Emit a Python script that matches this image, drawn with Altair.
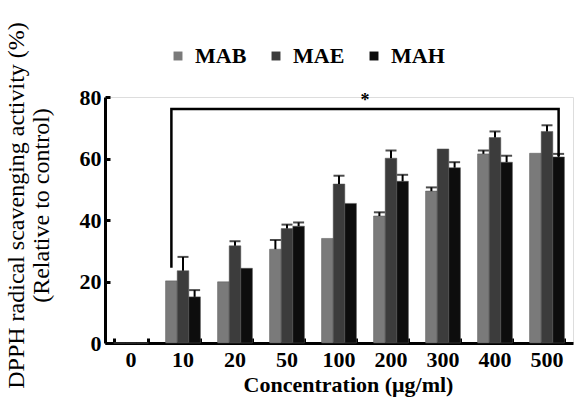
import altair as alt
import pandas as pd

concentrations = ["0", "10", "20", "50", "100", "200", "300", "400", "500"]
series = ["MAB", "MAE", "MAH"]
mab = [0, 20.2, 19.9, 30.5, 34.0, 41.3, 49.4, 61.5, 61.7]
mab_err = [0, 0, 0, 3.0, 0, 1.2, 1.2, 1.1, 0]
mae = [0, 23.5, 31.6, 37.2, 51.7, 60.1, 63.1, 66.8, 68.8]
mae_err = [0, 4.5, 1.5, 1.3, 2.7, 2.5, 0, 2.0, 2.0]
mah = [0, 15.0, 24.3, 38.0, 45.4, 52.6, 57.0, 58.8, 60.5]
mah_err = [0, 2.2, 0, 1.2, 0, 2.1, 1.8, 2.1, 1.0]
y_ticks = [0, 20, 40, 60, 80]

# significance bracket: (concentration, series, value) path
br_conc = ["10", "10", "500", "500"]
br_series = ["MAB", "MAB", "MAH", "MAH"]
br_val = [24.5, 76.1, 76.1, 60.8]

rows = []
for s, vals, errs in [("MAB", mab, mab_err), ("MAE", mae, mae_err), ("MAH", mah, mah_err)]:
    for c, v, e in zip(concentrations, vals, errs):
        rows.append({"conc": c, "series": s, "value": v, "hi": v + e, "err": e})
df = pd.DataFrame(rows)
bracket = pd.DataFrame({"conc": br_conc, "series": br_series, "value": br_val,
                        "order": list(range(len(br_conc)))})
star = pd.DataFrame({"conc": ["200"], "value": [76.1], "label": ["*"]})
ticks_df = pd.DataFrame({"v": y_ticks})

W, H = 468, 246
FONT = "Liberation Serif"
colors = ["#7a7a7a", "#3c3c3c", "#0d0d0d"]

xscale = alt.Scale(domain=concentrations, paddingInner=0.33, paddingOuter=0.165)
yscale = alt.Scale(domain=[0, 80], nice=False)

x_main = alt.X("conc:N", scale=xscale, sort=concentrations,
               axis=alt.Axis(title="Concentration (μg/ml)", labelAngle=0, ticks=False,
                             labelPadding=6, labelFont=FONT, labelFontSize=22,
                             labelFontWeight="bold", labelColor="black",
                             titleFont=FONT, titleFontSize=22, titleFontWeight="bold",
                             titleColor="black", titlePadding=4, titleX=243,
                             domainColor="black", domainWidth=3))
y_main = alt.Y("value:Q", scale=yscale,
               axis=alt.Axis(values=y_ticks, grid=False, ticks=False,
                             title=["DPPH  radical scavenging activity (%)", "(Relative to control)"],
                             labelPadding=4, labelFont=FONT, labelFontSize=22,
                             labelFontWeight="bold", labelColor="black",
                             titleFont=FONT, titleFontSize=24, titleFontWeight="normal",
                             titleColor="black", titleX=-77, titleY=108,
                             titleAlign="center", titleLineHeight=25,
                             domainColor="black", domainWidth=3))

bars = alt.Chart(df).mark_bar(stroke="#555555", strokeWidth=0.5).encode(
    x=x_main,
    xOffset=alt.XOffset("series:N", sort=series, scale=alt.Scale(paddingInner=0)),
    y=y_main,
    color=alt.Color("series:N", sort=series,
                    scale=alt.Scale(domain=series, range=colors),
                    legend=alt.Legend(orient="none", direction="horizontal", title=None,
                                      legendX=62, legendY=-52, symbolType="square",
                                      symbolSize=80, symbolStrokeWidth=0,
                                      labelFont=FONT, labelFontSize=22,
                                      labelFontWeight="bold", labelColor="black",
                                      columnPadding=18, labelOffset=6)),
)

xs = alt.X("conc:N", scale=xscale, sort=concentrations, axis=None)

err_df = df[df["err"] > 0]
err_bars = alt.Chart(err_df).mark_rule(color="black", strokeWidth=2).encode(
    x=xs,
    xOffset=alt.XOffset("series:N", sort=series),
    y=alt.Y("value:Q", scale=yscale, axis=None),
    y2="hi:Q",
)
caps = alt.Chart(err_df).mark_tick(color="black", thickness=2, size=11, orient="horizontal").encode(
    x=xs,
    xOffset=alt.XOffset("series:N", sort=series),
    y=alt.Y("hi:Q", scale=yscale, axis=None),
)

br = alt.Chart(bracket).mark_line(color="black", strokeWidth=2.5).encode(
    x=xs,
    xOffset=alt.XOffset("series:N", sort=series),
    y=alt.Y("value:Q", scale=yscale, axis=None),
    order="order:Q",
)

star_txt = alt.Chart(star).mark_text(font=FONT, fontSize=18, fontWeight="bold", dx=-26, dy=-3,
                                     baseline="alphabetic", color="black").encode(
    x=xs,
    y=alt.Y("value:Q", scale=yscale, axis=None),
    text="label:N",
)

# inward tick marks via axes placed on the opposite side with negative offset
tick_layer = alt.Chart(ticks_df).mark_point(opacity=0).encode(
    x=alt.X("conc:N", scale=xscale, sort=concentrations,
            axis=alt.Axis(orient="top", offset=-H, labels=False, domain=False, title=None,
                          ticks=True, tickBand="extent", tickSize=5, tickWidth=3,
                          tickColor="black")),
    y=alt.Y("v:Q", scale=yscale,
            axis=alt.Axis(orient="right", offset=-W, labels=False, domain=False, title=None,
                          values=y_ticks, grid=False, ticks=True, tickSize=5, tickWidth=3,
                          tickColor="black")),
).transform_calculate(conc="'0'")

chart = alt.layer(bars, err_bars, caps, br, star_txt, tick_layer).resolve_axis(
    x="independent", y="independent"
).properties(
    width=W, height=H,
    autosize=alt.AutoSizeParams(type="none"),
    padding={"left": 105, "top": 97, "right": 1, "bottom": 62},
).configure_view(stroke=None).configure(background="white")

chart.save("out.html", embed_options={"renderer": "svg", "actions": False})
